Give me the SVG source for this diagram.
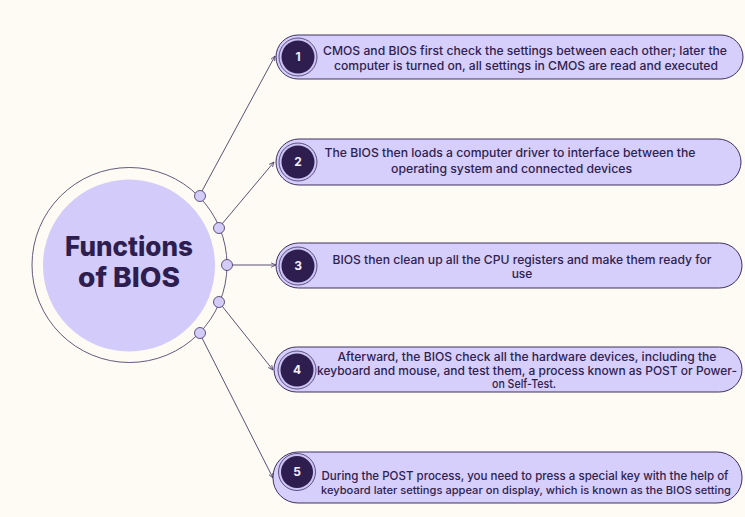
<svg xmlns="http://www.w3.org/2000/svg" width="745" height="517" viewBox="0 0 745 517">
<defs>
<style>
.bg{fill:#fdfbf3}
.pill{fill:#d6cefb;stroke:#3e3160;stroke-width:1}
.ring{fill:#cdc4f6;stroke:#3e3160;stroke-width:0.8}
.num{fill:#2d1e4f}
.numt{font-family:Inter,"DejaVu Sans",sans-serif;font-size:12px;font-weight:700;fill:#f2effa;text-anchor:middle}
.t{font-family:Inter,"DejaVu Sans",sans-serif;font-size:12px;font-weight:500;fill:#2f2250;text-anchor:middle}
.title{font-family:Inter,"DejaVu Sans",sans-serif;font-size:27px;font-weight:800;fill:#2d1e4f;text-anchor:middle}
.dot{fill:#d3cbf8;stroke:#3e3160;stroke-width:0.8}
.conn{stroke:#4a3d6a;stroke-width:0.9;fill:none}
</style>
<marker id="ah" markerWidth="6" markerHeight="6" refX="5" refY="3" orient="auto" markerUnits="userSpaceOnUse">
<path d="M0,0.8 L5,3 L0,5.2" fill="none" stroke="#4a3d6a" stroke-width="0.8"/>
</marker>
</defs>
<rect class="bg" x="0" y="0" width="745" height="517"/>

<g id="connectors">
<line class="conn" x1="202" y1="191" x2="275" y2="56" marker-end="url(#ah)"/>
<line class="conn" x1="222" y1="224" x2="274" y2="162" marker-end="url(#ah)"/>
<line class="conn" x1="232" y1="265" x2="276" y2="265" marker-end="url(#ah)"/>
<line class="conn" x1="222" y1="306" x2="273" y2="370" marker-end="url(#ah)"/>
<line class="conn" x1="202" y1="338" x2="273" y2="478" marker-end="url(#ah)"/>
</g>

<g id="center">
<circle cx="129.5" cy="265" r="97.5" fill="none" stroke="#3e3160" stroke-width="0.8"/>
<circle cx="129" cy="265.5" r="86" fill="#d3cbfa"/>
<text class="title" x="129" y="256" textLength="128" lengthAdjust="spacingAndGlyphs">Functions</text>
<text class="title" x="129" y="287" textLength="102" lengthAdjust="spacingAndGlyphs">of BIOS</text>
<circle class="dot" cx="200" cy="196" r="5.5"/>
<circle class="dot" cx="219" cy="228" r="5.5"/>
<circle class="dot" cx="227" cy="265" r="5.5"/>
<circle class="dot" cx="219" cy="302" r="5.5"/>
<circle class="dot" cx="200" cy="333" r="5.5"/>
</g>

<g id="step1">
<rect class="pill" x="276" y="35" width="467" height="44" rx="22"/>
<circle class="ring" cx="298" cy="57" r="19"/>
<circle class="num" cx="298" cy="57" r="16.5"/>
<text class="numt" x="298" y="61">1</text>
<text class="t" x="525" y="55" textLength="404" lengthAdjust="spacingAndGlyphs">CMOS and BIOS first check the settings between each other; later the</text>
<text class="t" x="526" y="69.5" textLength="384" lengthAdjust="spacingAndGlyphs">computer is turned on, all settings in CMOS are read and executed</text>
</g>

<g id="step2">
<rect class="pill" x="276" y="139" width="465" height="46" rx="23"/>
<circle class="ring" cx="298" cy="162" r="19"/>
<circle class="num" cx="298" cy="162" r="16.5"/>
<text class="numt" x="298" y="166">2</text>
<text class="t" x="510" y="157" textLength="371" lengthAdjust="spacingAndGlyphs">The BIOS then loads a computer driver to interface between the</text>
<text class="t" x="511.5" y="172.5" textLength="241" lengthAdjust="spacingAndGlyphs">operating system and connected devices</text>
</g>

<g id="step3">
<rect class="pill" x="276" y="243" width="466" height="45" rx="22.5"/>
<circle class="ring" cx="298" cy="266" r="19"/>
<circle class="num" cx="298" cy="266" r="16.5"/>
<text class="numt" x="298" y="270">3</text>
<text class="t" x="522" y="263.5" textLength="379" lengthAdjust="spacingAndGlyphs">BIOS then clean up all the CPU registers and make them ready for</text>
<text class="t" x="522" y="277.5">use</text>
</g>

<g id="step4">
<rect class="pill" x="274" y="347" width="468" height="45" rx="22.5"/>
<circle class="ring" cx="297" cy="370" r="19"/>
<circle class="num" cx="297" cy="370" r="16.5"/>
<text class="numt" x="297" y="374">4</text>
<text class="t" x="527" y="361" textLength="379" lengthAdjust="spacingAndGlyphs">Afterward, the BIOS check all the hardware devices, including the</text>
<text class="t" x="527" y="374.5" textLength="420" lengthAdjust="spacingAndGlyphs">keyboard and mouse, and test them, a process known as POST or Power-</text>
<text class="t" x="524" y="388" textLength="64" lengthAdjust="spacingAndGlyphs">on Self-Test.</text>
</g>

<g id="step5">
<rect class="pill" x="273" y="452" width="469" height="51" rx="25"/>
<circle class="ring" cx="297" cy="472" r="18.5"/>
<circle class="num" cx="297" cy="472" r="16"/>
<text class="numt" x="297" y="476">5</text>
<text class="t" x="525" y="480" textLength="407" lengthAdjust="spacingAndGlyphs">During the POST process, you need to press a special key with the help of</text>
<text class="t" x="526" y="493.5" style="font-size:11px" textLength="410" lengthAdjust="spacingAndGlyphs">keyboard later settings appear on display, which is known as the BIOS setting</text>
</g>
</svg>
